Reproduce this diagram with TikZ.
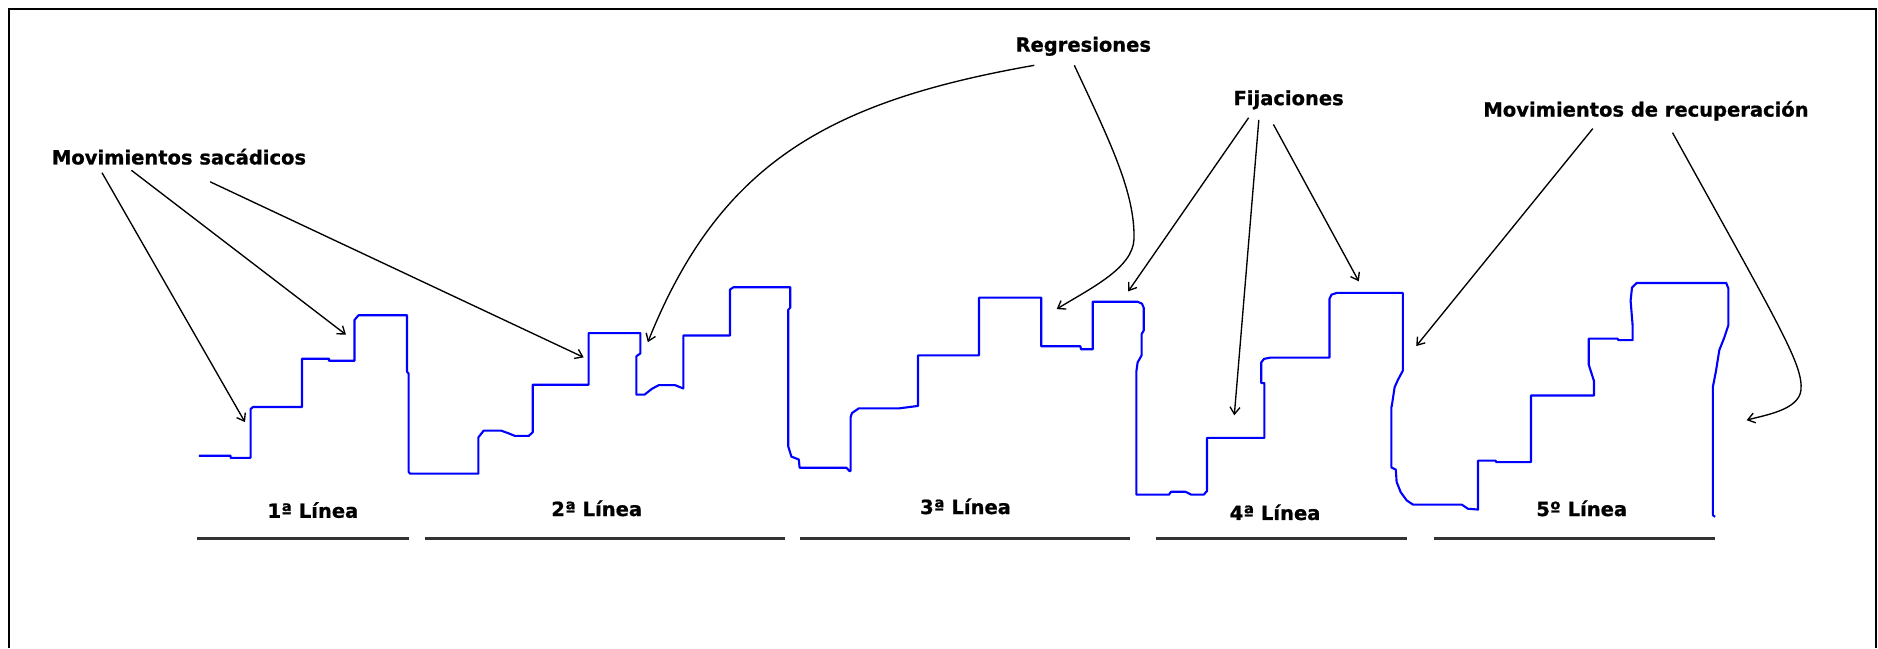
\documentclass[tikz,border=0pt]{standalone}
\usepackage{fontspec}
\setmainfont{DejaVu Sans}
\newfontfamily\capfont{DejaVu Sans}[BoldFeatures={FakeBold=0.9}]
\usetikzlibrary{arrows.meta}
\begin{document}
\begin{tikzpicture}[x=1pt,y=-1.0124pt,
  trace/.style={draw=blue, line width=2.1pt, line join=round},
  pointer/.style={draw=black, line width=1.35pt,
    -{Straight Barb[length=7pt,width=10pt,line width=1.35pt]}},
  caption/.style={font=\capfont\bfseries\fontsize{19.5}{22}\selectfont, inner sep=0pt, anchor=base},
  rulebar/.style={draw=black!80, line width=2.2pt}]

% page and frame
\useasboundingbox[fill=white] (0pt,0pt) rectangle (1878pt,-648pt);
\draw[line width=1.8pt] (9pt,-648pt) -- (9pt,-9pt) -- (1876pt,-9pt) -- (1876pt,-648pt);

% eye-movement trace across five lines of text
\draw[trace] (198.8,450.2) -- (230.6,450.2) -- (230.6,452.2) -- (250.6,452.2) -- (250.6,404) -- (253,402)
  -- (302,402) -- (302,354.3) -- (329,354.3) -- (329,356.3) -- (354.5,356.3) -- (354.5,316) -- (358.5,311.4)
  -- (407,311.4) -- (407,367) -- (408.6,369) -- (408.6,466) -- (410,467.8) -- (478.4,467.8)
  -- (478.4,432) -- (483.7,425.3) -- (501,425.3) -- (508,427.8) -- (515,430.6) -- (528.6,430.6) -- (532.7,427)
  -- (532.7,380) -- (588.6,380) -- (588.6,329) -- (640.4,329) -- (640.4,349) -- (636.3,352) -- (636.3,389.8)
  -- (644.5,389.8) -- (652,384) -- (658.8,380.4) -- (675,380.4) -- (683.3,383.7) -- (683.3,331.4)
  -- (730,331.4) -- (730,286) -- (733.5,283.7) -- (790.2,283.7) -- (790.2,304) -- (788.2,306)
  -- (788.2,440.8) -- (791.4,451) -- (798.8,453.9) -- (799.6,462) -- (846.5,462) -- (849.4,465.3) -- (850.6,465.3)
  -- (850.6,412) -- (852,408) -- (858.8,403.3) -- (899.6,403.3) -- (916,401.2) -- (918,401.2) -- (918,351)
  -- (979,351) -- (979,293.9) -- (1041.2,293.9) -- (1041.2,342) -- (1080.4,342) -- (1081,345) -- (1092.7,345)
  -- (1092.7,298) -- (1137.6,298) -- (1142,300) -- (1143.7,304) -- (1143.7,326.5) -- (1141.6,330)
  -- (1141.6,351) -- (1137.6,358) -- (1136.3,367.3) -- (1136.3,488.6) -- (1169,488.6) -- (1171,485.7)
  -- (1185.3,485.7) -- (1191.4,488.6) -- (1203.7,488.6) -- (1207,485) -- (1207,432.5) -- (1264.4,432.5)
  -- (1264.4,378.4) -- (1261.2,378.4) -- (1261.2,358) -- (1264,354.5) -- (1270.5,353.2) -- (1329.5,353.2)
  -- (1329.5,295) -- (1331.5,291) -- (1336.8,289.3) -- (1402.8,289.3) -- (1402.8,366.2) -- (1398,375)
  -- (1394.6,382.5) -- (1391.8,400.8) -- (1391.4,402) -- (1391.4,461.8) -- (1395.8,463.8) -- (1396.6,476)
  -- (1400.7,486.2) -- (1406.8,494.4) -- (1413,498.4) -- (1461.7,498.4) -- (1467.9,502.5) -- (1478,503.3)
  -- (1478,454.9) -- (1495.5,454.9) -- (1496.3,456.5) -- (1531,456.5) -- (1531,390.6) -- (1594,390.6)
  -- (1594,376.4) -- (1590,364.2) -- (1588.7,360) -- (1588.7,334.5) -- (1617.6,334.5) -- (1618.4,336)
  -- (1632.6,336) -- (1632.6,321.4) -- (1630.6,297) -- (1632,284) -- (1636.7,279.5) -- (1726.2,279.5)
  -- (1728.3,284.8) -- (1728.3,321.4) -- (1724.2,333.6) -- (1719.3,345.8) -- (1716,366.2) -- (1712.8,382.5)
  -- (1712.8,508.6) -- (1715,510.6);

% underlines of the five lines
\draw[rulebar] (197,531.8) -- (409.4,531.8);
\draw[rulebar] (424.5,531.8) -- (784.5,531.8);
\draw[rulebar] (799.6,531.8) -- (1130.2,531.8);
\draw[rulebar] (1155.5,531.8) -- (1406.8,531.8);
\draw[rulebar] (1434,531.8) -- (1715.2,531.8);

% line captions
\node[caption] (lin1) at (312.9,511.4) {1ª Línea};
\node[caption] (lin2) at (596.7,509.7) {2ª Línea};
\node[caption] (lin3) at (965.5,507.7) {3ª Línea};
\node[caption] (lin4) at (1275,513.6) {4ª Línea};
\node[caption] (lin5) at (1581.7,509.7) {5º Línea};

% callout labels
\node[caption] (sac) at (179,162.4) {Movimientos sacádicos};
\node[caption] (reg) at (1083.3,51) {Regresiones};
\node[caption] (fij) at (1288.6,103.8) {Fijaciones};
\node[caption] (rec) at (1646,115.1) {Movimientos de recuperación};

% arrow start points under the labels
\coordinate (sac-a) at (102,170.6);
\coordinate (sac-b) at (131.4,168.2);
\coordinate (sac-c) at (210.2,179.6);
\coordinate (reg-a) at (1034.3,64.5);
\coordinate (reg-b) at (1074.3,64.5);
\coordinate (fij-a) at (1248.6,116.3);
\coordinate (fij-b) at (1258.8,118.4);
\coordinate (fij-c) at (1273.4,122.9);
\coordinate (rec-a) at (1592.8,127);
\coordinate (rec-b) at (1672.5,131);

% arrow targets on the trace
\coordinate (sac-ta) at (245,417);
\coordinate (sac-tb) at (346,330.6);
\coordinate (sac-tc) at (583.7,353);
\coordinate (reg-ta) at (647.8,338);
\coordinate (reg-tb) at (1056.7,305.3);
\coordinate (fij-ta) at (1128.2,287.8);
\coordinate (fij-tb) at (1234.3,410.2);
\coordinate (fij-tc) at (1358.8,277.9);
\coordinate (rec-ta) at (1416.2,341.8);
\coordinate (rec-tb) at (1746.6,415);

% saccades
\draw[pointer] (sac-a) -- (sac-ta);
\draw[pointer] (sac-b) -- (sac-tb);
\draw[pointer] (sac-c) -- (sac-tc);
% regressions
\draw[pointer] (reg-a) .. controls (830,100) and (720,160) .. (reg-ta);
\draw[pointer] (reg-b) .. controls (1110,140) and (1135,190) .. (1134,236)
  .. controls (1133,265) and (1090,285) .. (reg-tb);
% fixations
\draw[pointer] (fij-a) -- (fij-ta);
\draw[pointer] (fij-b) -- (fij-tb);
\draw[pointer] (fij-c) -- (fij-tc);
% return sweeps
\draw[pointer] (rec-a) -- (rec-ta);
\draw[pointer] (rec-b) .. controls (1780,323) and (1803,360) .. (1801,385)
  .. controls (1799,405) and (1765,410) .. (rec-tb);
\end{tikzpicture}
\end{document}
